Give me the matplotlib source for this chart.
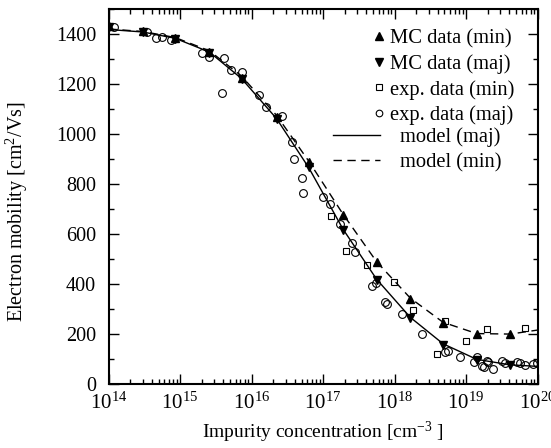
import numpy as np
import matplotlib
matplotlib.use('Agg')
import matplotlib.pyplot as plt
from matplotlib.ticker import LogLocator, MultipleLocator, NullFormatter

plt.rcParams['font.family'] = ['Liberation Serif', 'DejaVu Serif']
plt.rcParams['mathtext.fontset'] = 'custom'
plt.rcParams['mathtext.rm'] = 'Liberation Serif'
plt.rcParams['mathtext.it'] = 'Liberation Serif:italic'

# log10 of impurity concentration for the Monte Carlo points
mc_logN = [14.0, 14.48, 14.93, 15.41, 15.86, 16.35, 16.8, 17.28, 17.75, 18.22, 18.68, 19.15, 19.62]
mc_min = [1433, 1413, 1385, 1329, 1226, 1067, 888, 675, 489, 343, 246, 201, 201]
mc_maj = [1429, 1409, 1381, 1325, 1222, 1062, 868, 618, 419, 266, 159, 97, 77]

# experimental minority-carrier data
exp_min_logN = [17.11, 17.32, 17.62, 17.99, 18.26, 18.60, 18.71, 19.0, 19.30, 19.82]
exp_min = [672, 534, 476, 409, 296, 121, 252, 172, 223, 227]

# experimental majority-carrier data
exp_maj_logN = [14.08, 14.54, 14.66, 14.75, 14.87, 15.31, 15.41, 15.58, 15.62, 15.71,
                15.86, 16.11, 16.20, 16.42, 16.56, 16.59, 16.70, 16.72, 17.0, 17.10,
                17.24, 17.40, 17.45, 17.68, 17.74, 17.87, 17.89, 18.10, 18.39, 18.71,
                18.75, 18.92, 19.11, 19.16, 19.22, 19.25, 19.29, 19.31, 19.38, 19.50,
                19.55, 19.71, 19.75, 19.82, 19.94, 19.99]
exp_maj = [1426, 1409, 1384, 1387, 1376, 1323, 1307, 1166, 1303, 1256,
           1247, 1158, 1110, 1071, 968, 900, 826, 764, 748, 722,
           642, 565, 529, 392, 405, 329, 323, 281, 201, 130,
           135, 108, 90, 110, 73, 70, 94, 89, 61, 94,
           85, 90, 84, 77, 81, 86]

# model curves
model_logN = [14.0, 14.48, 14.93, 15.41, 15.86, 16.35, 16.8, 17.28, 17.75, 18.22, 18.68, 19.15, 19.62, 20.0]
model_maj = [1418, 1408, 1383, 1328, 1222, 1062, 866, 620, 420, 268, 162, 100, 78, 72]
model_min = [1420, 1410, 1386, 1333, 1232, 1075, 892, 680, 490, 345, 248, 203, 201, 217]

fig = plt.figure(figsize=(5.51, 4.48), dpi=100)
ax = fig.add_axes([0.197, 0.142, 0.7785, 0.838])

m1, = ax.plot(10 ** np.array(mc_logN), mc_min, '^', color='black', markersize=6, label='MC data (min)')
m2, = ax.plot(10 ** np.array(mc_logN), mc_maj, 'v', color='black', markersize=6, label='MC data (maj)')
m3, = ax.plot(10 ** np.array(exp_min_logN), exp_min, 's', mfc='none', mec='black', mew=0.8,
              markersize=5, label='exp. data (min)')
m4, = ax.plot(10 ** np.array(exp_maj_logN), exp_maj, 'o', mfc='none', mec='black', mew=0.8,
              markersize=5.6, label='exp. data (maj)')
l1, = ax.plot(10 ** np.array(model_logN), model_maj, '-', color='black', lw=1.0, label='model (maj)')
l2, = ax.plot(10 ** np.array(model_logN), model_min, '--', color='black', lw=1.0,
              dashes=(6, 4), label='model (min)')

ax.set_xscale('log')
ax.set_xlim(1e14, 1e20)
ax.set_ylim(0, 1500)
ax.xaxis.set_major_locator(LogLocator(base=10, numticks=10))
ax.xaxis.set_minor_locator(LogLocator(base=10, subs=np.arange(2, 10), numticks=20))
ax.xaxis.set_minor_formatter(NullFormatter())
ax.yaxis.set_major_locator(MultipleLocator(200))
ax.yaxis.set_minor_locator(MultipleLocator(100))

ax.tick_params(which='both', direction='in', top=True, right=True, width=1.0)
ax.tick_params(which='major', length=7)
ax.tick_params(which='minor', length=3.5)
ax.tick_params(axis='x', labelsize=15, pad=6)
ax.tick_params(axis='y', labelsize=14.5, pad=9)
for s in ax.spines.values():
    s.set_linewidth(1.5)

ax.set_xlabel('Impurity concentration [cm$^{-3}$ ]', fontsize=14, labelpad=4)
ax.set_ylabel('Electron mobility [cm$^2$/Vs]', fontsize=14.5)
ax.yaxis.set_label_coords(-0.183, 0.46)

# two keys: the marker entries and the line entries sit slightly differently
leg1 = ax.legend(handles=[m1, m2, m3, m4], loc='upper left', bbox_to_anchor=(0.611, 0.947),
                 frameon=False, fontsize=14.8, handlelength=0.8, handletextpad=0.14,
                 labelspacing=0.29, borderpad=0, borderaxespad=0, markerscale=0.85)
ax.add_artist(leg1)
ax.legend(handles=[l1, l2], loc='upper left', bbox_to_anchor=(0.523, 0.684),
          frameon=False, fontsize=14.8, handlelength=2.28, handletextpad=0.97,
          labelspacing=0.29, borderpad=0, borderaxespad=0)

fig.savefig('out.png', dpi=100)
